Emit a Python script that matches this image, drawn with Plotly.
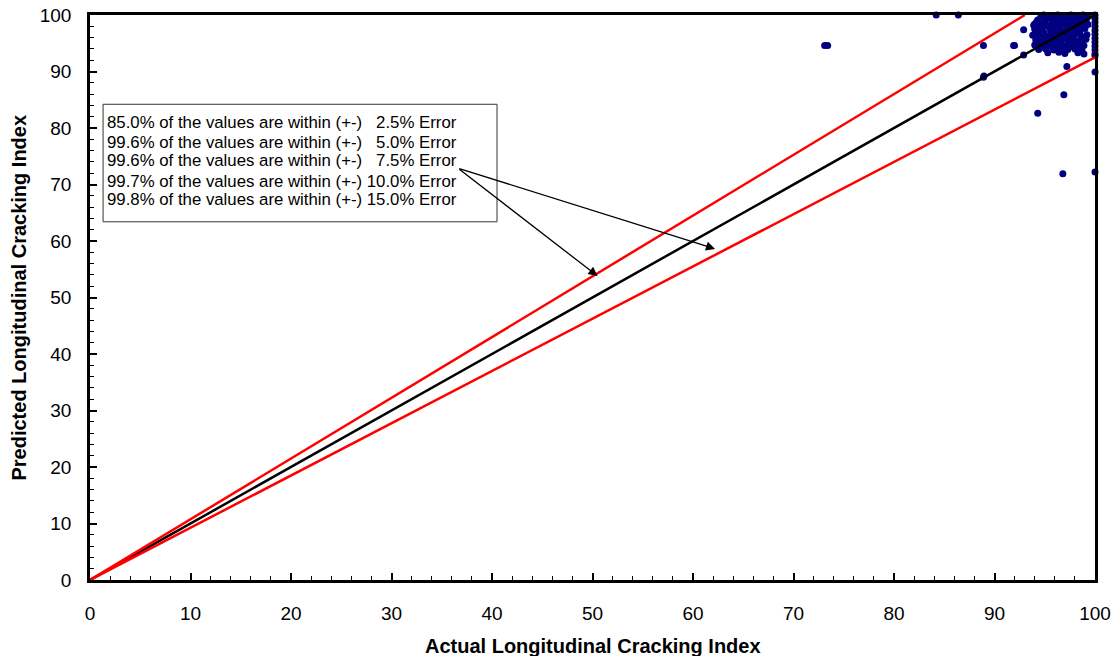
import plotly.graph_objects as go

# ---- data ----
outlier_x = [84.2, 86.4, 73.1, 73.4, 88.9, 91.9, 88.9, 88.95, 92.9, 92.0, 92.9, 94.0, 97.2, 96.9, 94.3, 96.8]
outlier_y = [100.0, 100.0, 94.6, 94.6, 94.6, 94.6, 89.0, 89.2, 97.4, 94.6, 92.9, 98.4, 90.9, 85.9, 82.6, 71.9]

cluster_x = [94.9, 95.6, 96.3, 97.0, 97.6, 98.2, 98.8, 99.3,
             94.3, 95.1, 95.8, 96.5, 97.2, 97.9, 98.5, 99.1,
             93.9, 94.6, 95.3, 96.0, 96.8, 97.5, 98.1, 98.7, 99.3,
             94.0, 94.7, 95.5, 96.2, 96.9, 97.6, 98.3, 99.0,
             93.8, 94.5, 95.2, 95.9, 96.6, 97.3, 98.0, 98.6, 99.2,
             94.1, 94.8, 95.6, 96.3, 97.0, 97.7, 98.4, 99.1,
             94.0, 94.6, 95.4, 96.1, 96.8, 97.5, 98.2, 98.9,
             94.4, 95.1, 95.9, 96.6, 97.3, 98.0, 98.7,
             95.3, 96.4, 97.0, 98.3, 98.9]
cluster_y = [100.0, 99.9, 100.0, 99.8, 100.0, 99.9, 100.0, 99.8,
             99.1, 99.3, 99.0, 99.2, 99.4, 99.1, 99.3, 99.0,
             98.2, 98.4, 98.1, 98.3, 98.5, 98.2, 98.4, 98.1, 98.3,
             97.5, 97.3, 97.6, 97.4, 97.2, 97.5, 97.3, 97.6,
             96.4, 96.6, 96.3, 96.5, 96.7, 96.4, 96.6, 96.3, 96.5,
             95.6, 95.4, 95.7, 95.5, 95.8, 95.6, 95.4, 95.7,
             94.7, 94.9, 94.6, 94.8, 94.5, 94.7, 94.9, 94.6,
             93.9, 94.0, 93.8, 94.1, 93.9, 94.0, 93.8,
             93.3, 93.4, 93.2, 93.3, 93.1]

fill_x = [94.6, 95.3, 96.0, 96.7, 97.4, 98.0, 98.6, 99.2,
          94.2, 95.0, 95.7, 96.4, 97.1, 97.8, 98.5,
          94.3, 95.0, 95.8, 96.5, 97.2, 97.9, 98.6,
          94.2, 94.9, 95.6, 96.4, 97.1, 97.8, 98.5,
          94.3, 95.0, 95.8, 96.5, 97.2, 97.9, 98.7,
          94.4, 95.1, 95.9, 96.6, 97.3, 98.0, 98.7,
          94.3, 95.0, 95.7, 96.4, 97.1, 97.8, 98.5]
fill_y = [99.6, 99.5, 99.7, 99.6, 99.5, 99.7, 99.6, 99.5,
          98.8, 98.7, 98.9, 98.8, 98.7, 98.9, 98.8,
          97.9, 98.0, 97.8, 97.9, 98.0, 97.8, 97.9,
          97.0, 96.9, 97.1, 97.0, 96.9, 97.1, 97.0,
          96.1, 96.0, 96.2, 96.1, 96.0, 96.2, 96.1,
          95.2, 95.1, 95.3, 95.2, 95.1, 95.3, 95.2,
          94.3, 94.2, 94.4, 94.3, 94.2, 94.4, 94.3]

edge_x = [100.0] * 14
edge_y = [100.0, 99.4, 98.7, 98.0, 97.3, 96.6, 95.9, 95.2, 94.5, 93.8, 93.1, 92.8, 89.9, 72.2]

line_x = [0, 100]
error_pct = 7.5

legend_lines = [
    "85.0% of the values are within (+-)\u00a0\u00a0\u00a02.5% Error",
    "99.6% of the values are within (+-)\u00a0\u00a0\u00a05.0% Error",
    "99.6% of the values are within (+-)\u00a0\u00a0\u00a07.5% Error",
    "99.7% of the values are within (+-) 10.0% Error",
    "99.8% of the values are within (+-) 15.0% Error",
]
legend_line_y = [80.9, 77.5, 74.2, 70.6, 67.3]

x_title = "Actual Longitudinal Cracking Index"
y_title = "Predicted Longitudinal Cracking Index"

xs = outlier_x + cluster_x + fill_x + edge_x
ys = outlier_y + cluster_y + fill_y + edge_y

fig = go.Figure()
fig.add_trace(go.Scatter(x=xs, y=ys, mode="markers",
                         marker=dict(color="#000080", size=7),
                         cliponaxis=False, showlegend=False))
# 1:1 line
fig.add_trace(go.Scatter(x=line_x, y=line_x, mode="lines",
                         line=dict(color="black", width=2.5), showlegend=False))
# upper / lower error lines
up = 1 + error_pct / 100
lo = 1 - error_pct / 100
fig.add_trace(go.Scatter(x=[0, 100 / up], y=[0, 100], mode="lines",
                         line=dict(color="#ff0000", width=2.5), showlegend=False))
fig.add_trace(go.Scatter(x=[0, 100], y=[0, 100 * lo], mode="lines",
                         line=dict(color="#ff0000", width=2.5), showlegend=False))

font_family = "Arial, 'Liberation Sans', sans-serif"

# legend-like text box
fig.add_shape(type="rect", xref="x", yref="y", x0=1.3, x1=40.5, y0=63.4, y1=84.2,
              line=dict(color="#333333", width=1), fillcolor="white", layer="above")
for txt, ly in zip(legend_lines, legend_line_y):
    fig.add_annotation(x=1.5, y=ly, xref="x", yref="y", xanchor="left", yanchor="middle",
                       text=txt, showarrow=False, align="left",
                       font=dict(family=font_family, size=16.8, color="black"))

tail_x, tail_y = 36.6, 72.9
for hx, hy in [(50.5, 53.8), (62.2, 58.6)]:
    fig.add_annotation(x=hx, y=hy, ax=tail_x, ay=tail_y, xref="x", yref="y",
                       axref="x", ayref="y", text="", showarrow=True,
                       arrowhead=2, arrowsize=1.4, arrowwidth=1.3, arrowcolor="black")

# axis titles
fig.add_annotation(x=0.5, y=-0.1168, xref="paper", yref="paper", xanchor="center",
                   yanchor="middle", text="<b>" + x_title + "</b>", showarrow=False,
                   font=dict(family=font_family, size=20, color="black"))
fig.add_annotation(x=-0.0716, y=0.5, xref="paper", yref="paper", xanchor="center",
                   yanchor="middle", text="<b>" + y_title + "</b>", showarrow=False,
                   textangle=-90, font=dict(family=font_family, size=20, color="black"))

axis_common = dict(range=[0, 100], dtick=10, showgrid=False, zeroline=False,
                   showline=True, linecolor="black", linewidth=2.5, mirror=True,
                   ticks="inside", ticklen=7, tickwidth=1.5, tickcolor="black",
                   minor=dict(ticks="inside", dtick=2, ticklen=4, tickwidth=1.2, tickcolor="black"),
                   tickfont=dict(family=font_family, size=19, color="black"),
                   automargin=False)

fig.update_xaxes(**axis_common, ticklabelstandoff=14)
fig.update_yaxes(**axis_common, ticklabelstandoff=12)

fig.update_layout(width=1117, height=656, plot_bgcolor="white", paper_bgcolor="white",
                  margin=dict(l=90, r=22, t=15, b=76, autoexpand=False), showlegend=False)

fig.write_html("out.html", config={"displayModeBar": False},
               post_script="document.body.style.margin='0';")
